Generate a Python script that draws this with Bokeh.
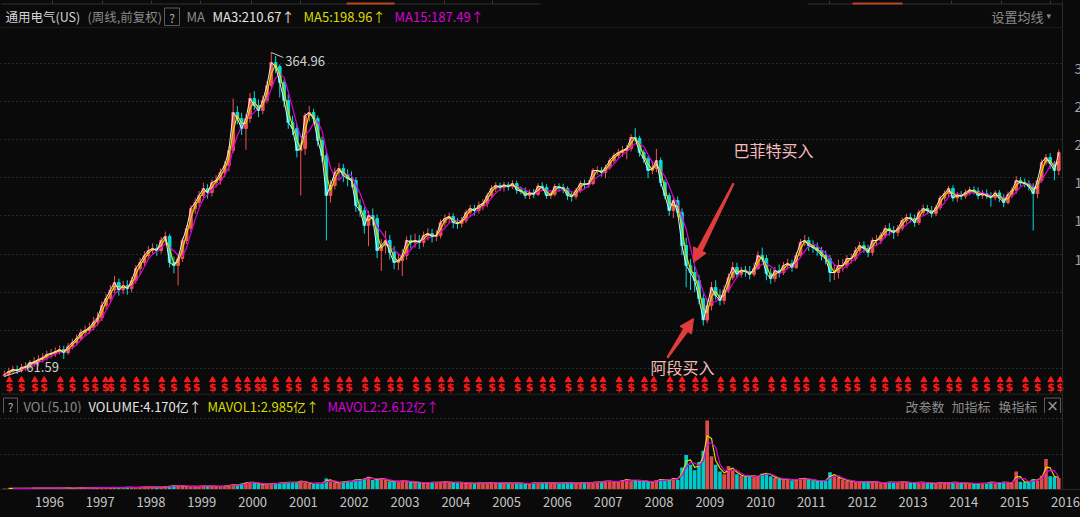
import math
import numpy as np
import pandas as pd
from bokeh.plotting import figure
from bokeh.layouts import column
from bokeh.models import (Range1d, Span, ColumnDataSource, FixedTicker,
                          DatetimeTickFormatter)
from bokeh.core.properties import value
from bokeh.embed import file_html
from bokeh.resources import INLINE

# ------------------------------------------------------------------ data
stock_name = "通用电气(US)"
period_note = "(周线,前复权)"
ma_texts = ["MA3:210.67↑", "MA5:198.96↑", "MA15:187.49↑"]
vol_title = "VOL(5,10)"
vol_texts = ["VOLUME:4.170亿↑", "MAVOL1:2.985亿↑", "MAVOL2:2.612亿↑"]
right_buttons = ["改参数", "加指标", "换指标"]
setting_text = "设置均线"
note_buffett = "巴菲特买入"
note_duan = "阿段买入"
years = list(range(1996, 2017))

first_month = "1995-05-01"   # monthly bars, May 1995 .. Feb 2016
first_open = 61.8

close = [
    62.2, 63.3, 64.0, 63.6, 64.7, 65.0, 66.1, 66.8,                              # 1995
    67.6, 68.3, 69.5, 69.9, 70.6, 71.4, 70.2, 72.6, 74.2, 75.9, 78.4, 79.3,      # 1996
    80.6, 83.1, 84.9, 90.9, 94.5, 99.0, 103.2, 99.0, 101.5, 99.8, 104.3, 111.4,  # 1997
    115.2, 119.7, 123.0, 124.4, 123.0, 130.0, 132.9, 115.2, 113.3, 117.7, 130.0, 138.8,
    154.9, 160.1, 166.4, 172.9, 169.1, 178.7, 180.7, 188.8, 196.2, 213.1, 262.5, 254.0,
    240.4, 254.0, 283.5, 272.8, 265.4, 280.4, 304.4, 345.5, 338.0, 309.6, 280.4, 248.5,
    240.4, 213.1, 215.4, 258.2, 262.5, 254.0, 225.1, 207.3, 166.4, 175.8, 188.8, 193.0,
    185.7, 182.7, 180.7, 157.5, 153.2, 141.1, 149.1, 146.7, 123.0, 126.4, 130.0, 121.7,
    115.2, 116.5, 119.7, 130.0, 128.6, 130.0, 128.6, 133.6, 135.0, 132.9, 133.6, 143.4,
    146.7, 148.3, 143.4, 142.6, 145.0, 151.5, 154.9, 153.2, 157.5, 159.3, 166.4, 172.9,
    175.8, 173.9, 176.4, 174.6, 177.7, 171.6, 170.3, 166.4, 168.9, 167.5, 175.2, 173.9,
    166.4, 167.3, 174.8, 173.9, 172.9, 166.4, 165.5, 171.0, 177.7, 176.8, 177.7, 190.9,
    190.9, 188.8, 194.1, 201.7, 207.3, 210.7, 213.1, 215.4, 228.9, 227.7, 210.7, 203.9,
    190.9, 193.0, 201.7, 178.7, 166.4, 153.2, 161.9, 151.5, 126.4, 113.3, 109.0, 104.3,
    94.5, 84.0, 90.9, 100.4, 96.1, 93.5, 99.0, 106.0, 112.1, 108.0, 110.5, 109.6,
    107.9, 111.5, 119.7, 117.7, 108.4, 105.4, 110.2, 109.0, 113.3, 114.6, 112.1, 119.7,
    128.6, 130.0, 126.4, 125.0, 123.0, 119.7, 117.7, 109.0, 109.0, 113.3, 113.3, 117.7,
    117.7, 123.0, 126.4, 124.4, 121.7, 130.0, 130.0, 133.6, 138.8, 137.3, 135.8, 138.8,
    145.0, 147.5, 146.7, 143.4, 151.5, 154.9, 153.2, 150.7, 155.8, 164.1, 168.2, 172.9,
    164.1, 166.9, 165.8, 169.1, 171.6, 170.4, 166.4, 168.2, 166.0, 164.5, 168.8, 164.1,
    160.1, 167.3, 171.0, 180.7, 178.7, 177.7, 174.8, 168.2, 180.7, 199.5, 205.0, 198.4,
    190.9, 210.7,                                                                 # 2016
]
high = [
    63.5, 64.6, 65.3, 65.4, 66.0, 66.6, 67.4, 68.5,
    69.2, 70.0, 71.0, 71.6, 72.3, 73.0, 72.9, 74.0, 75.8, 77.6, 80.0, 81.5,
    82.8, 85.5, 87.6, 93.0, 97.0, 101.8, 107.0, 105.5, 104.2, 104.5, 106.5, 113.5,
    118.0, 122.5, 126.0, 128.0, 127.5, 132.5, 136.5, 134.5, 119.0, 121.0, 132.0, 141.5,
    158.0, 164.0, 170.5, 178.5, 177.0, 182.0, 186.0, 193.0, 201.0, 218.0, 283.5, 272.0,
    262.0, 260.0, 292.0, 295.0, 282.0, 288.0, 312.0, 364.96, 358.0, 342.0, 315.0, 290.0,
    258.0, 246.0, 222.0, 262.0, 272.0, 268.0, 258.0, 230.0, 212.0, 181.0, 194.0, 199.0,
    198.0, 192.0, 190.0, 184.0, 163.0, 156.0, 153.0, 155.0, 150.0, 131.0, 137.0, 134.0,
    126.0, 121.0, 124.0, 133.0, 134.0, 135.0, 134.0, 136.5, 139.0, 138.5, 137.5, 146.0,
    150.0, 151.5, 151.0, 147.0, 148.0, 154.0, 158.0, 158.0, 161.0, 163.0, 169.0, 176.0,
    179.0, 178.5, 179.5, 179.0, 181.0, 180.5, 175.0, 174.0, 172.0, 172.5, 178.0, 179.0,
    177.0, 170.5, 177.5, 178.0, 177.5, 175.0, 170.0, 173.5, 180.5, 181.5, 181.0, 193.5,
    195.5, 194.5, 197.0, 205.0, 210.5, 215.0, 218.5, 219.5, 233.0, 241.0, 231.0, 214.0,
    207.0, 201.0, 215.0, 205.0, 181.5, 169.0, 166.0, 165.5, 155.0, 132.0, 117.5, 113.0,
    107.5, 97.0, 94.0, 103.5, 104.5, 99.5, 101.5, 108.5, 115.5, 115.0, 112.5, 113.0,
    113.0, 115.0, 122.5, 125.0, 120.0, 111.5, 112.5, 114.0, 115.5, 117.5, 117.0, 122.0,
    131.0, 134.0, 132.5, 130.0, 128.5, 125.5, 123.0, 120.0, 114.0, 117.0, 117.5, 120.0,
    121.0, 125.5, 129.0, 129.5, 127.0, 132.0, 134.0, 136.0, 141.5, 143.0, 140.5, 141.5,
    147.5, 150.5, 151.0, 150.0, 154.0, 158.5, 158.0, 157.0, 158.0, 166.5, 171.0, 175.5,
    176.0, 169.5, 170.5, 172.0, 174.5, 175.0, 174.0, 171.5, 172.0, 169.5, 171.0, 171.5,
    167.5, 170.0, 174.0, 185.0, 184.0, 182.5, 181.0, 178.0, 183.0, 203.0, 209.0, 210.0,
    201.0, 214.0,
]
low = [
    61.59, 61.9, 62.6, 62.4, 62.9, 63.5, 64.3, 65.0,
    65.3, 66.5, 67.2, 68.0, 68.6, 69.5, 67.8, 69.4, 71.5, 73.0, 75.0, 76.8,
    77.9, 79.5, 81.4, 83.5, 89.0, 92.6, 97.5, 96.0, 96.8, 96.5, 97.8, 102.5,
    107.5, 113.0, 117.0, 120.0, 119.5, 121.0, 127.0, 112.0, 108.5, 101.5, 115.5, 127.5,
    136.0, 150.5, 156.5, 162.0, 163.5, 165.5, 174.0, 176.5, 184.0, 190.0, 210.0, 246.0,
    232.0, 214.0, 248.0, 266.0, 256.0, 260.0, 276.0, 300.0, 326.0, 285.0, 270.0, 240.0,
    232.0, 205.0, 166.4, 208.0, 250.0, 246.0, 218.0, 200.0, 130.0, 160.0, 172.0, 182.0,
    179.0, 175.0, 174.0, 152.0, 148.0, 135.0, 126.0, 141.0, 118.0, 110.0, 121.0, 117.0,
    111.0, 110.5, 107.0, 117.0, 124.5, 125.0, 124.0, 125.5, 130.0, 128.5, 129.5, 131.5,
    140.5, 143.0, 139.0, 138.5, 139.5, 143.0, 148.0, 149.0, 150.5, 153.5, 156.0, 164.0,
    169.5, 170.5, 170.0, 171.0, 172.5, 168.0, 167.5, 163.5, 163.0, 164.0, 166.0, 170.5,
    163.5, 163.5, 165.5, 170.0, 168.5, 162.5, 161.0, 163.0, 169.0, 173.0, 173.5, 176.0,
    186.5, 184.5, 183.0, 191.5, 198.5, 204.0, 206.0, 203.0, 212.0, 223.0, 206.0, 199.0,
    183.0, 187.0, 189.0, 175.0, 163.0, 149.0, 147.0, 148.0, 120.0, 100.5, 99.0, 98.0,
    91.5, 81.5, 82.5, 88.5, 94.0, 91.0, 91.5, 97.5, 104.5, 106.0, 106.0, 106.5,
    105.0, 106.5, 110.5, 115.5, 104.5, 102.5, 103.5, 106.0, 107.5, 111.0, 109.5, 111.0,
    118.0, 126.0, 122.5, 121.5, 119.5, 116.5, 114.0, 103.5, 104.5, 105.5, 109.5, 111.5,
    114.5, 116.0, 121.0, 121.5, 118.5, 119.5, 126.5, 127.5, 131.5, 133.5, 131.0, 133.0,
    137.0, 142.5, 143.5, 140.0, 141.5, 148.5, 150.0, 147.5, 148.5, 153.5, 161.5, 165.5,
    161.0, 160.5, 162.5, 163.5, 166.5, 167.5, 163.0, 163.5, 163.5, 156.5, 162.0, 160.5,
    156.0, 158.5, 164.0, 168.0, 175.5, 174.0, 171.0, 137.3, 164.0, 178.5, 196.5, 192.5,
    181.0, 186.0,
]
# typical weekly volume of each month, 亿 shares
volume = [
    0.35, 0.4, 0.35, 0.4, 0.45, 0.4, 0.45, 0.5,
    0.5, 0.55, 0.5, 0.55, 0.5, 0.5, 0.6, 0.55, 0.5, 0.6, 0.55, 0.6,
    0.65, 0.6, 0.7, 0.75, 0.7, 0.65, 0.7, 0.75, 0.7, 0.85, 0.75, 0.7,
    0.9, 0.85, 0.9, 0.85, 0.85, 0.9, 1.0, 1.3, 1.4, 1.5, 1.15, 1.1,
    1.2, 1.1, 1.2, 1.3, 1.25, 1.2, 1.1, 1.2, 1.25, 1.6, 1.7, 1.5,
    2.2, 2.5, 2.7, 2.4, 2.0, 1.9, 2.0, 2.2, 2.0, 2.5, 2.4, 2.7,
    2.5, 2.7, 3.2, 2.5, 2.2, 2.0, 2.4, 2.2, 4.0, 3.0, 2.5, 2.5,
    2.9, 3.0, 2.9, 3.7, 3.4, 4.0, 4.6, 3.4, 3.7, 4.2, 3.4, 2.9,
    3.0, 2.9, 3.2, 2.9, 2.7, 2.7, 2.5, 2.4, 2.5, 2.7, 2.5, 2.7,
    2.9, 2.5, 2.5, 2.7, 2.4, 2.4, 2.2, 2.2, 2.4, 2.2, 2.4, 2.5,
    2.5, 2.4, 2.2, 2.4, 2.2, 2.4, 2.2, 2.0, 2.2, 2.4, 2.2, 2.4,
    2.5, 2.4, 2.4, 2.2, 2.4, 2.5, 2.4, 2.2, 2.4, 2.5, 2.4, 2.7,
    2.7, 2.7, 3.2, 2.9, 2.7, 2.9, 3.4, 3.7, 3.0, 3.4, 3.2, 3.0,
    2.9, 2.8, 3.3, 3.8, 3.1, 3.5, 4.2, 3.4, 8.0, 12.5, 9.0, 7.0,
    10.0, 14.0, 25.0, 12.0, 9.0, 6.5, 5.5, 8.5, 7.0, 5.5, 5.0, 4.5,
    5.2, 4.6, 4.8, 5.8, 6.0, 4.8, 4.2, 3.8, 3.6, 3.8, 3.3, 3.4,
    4.2, 3.8, 3.6, 3.3, 3.1, 3.3, 3.2, 6.2, 4.6, 4.2, 3.6, 3.1,
    3.0, 2.8, 2.8, 2.7, 2.8, 2.9, 2.6, 2.3, 2.6, 2.7, 2.5, 2.6,
    2.8, 2.6, 2.4, 2.6, 2.5, 2.6, 2.3, 2.2, 2.3, 2.5, 2.4, 2.4,
    2.7, 2.4, 2.3, 2.3, 2.2, 2.1, 2.2, 2.2, 2.3, 2.8, 2.3, 2.4,
    2.8, 2.4, 2.4, 6.5, 2.8, 2.6, 2.9, 3.8, 3.2, 5.0, 11.0, 4.8,
    4.6, 4.17,
]
# dividend (ex-date) and split events shown as "$" marks
dividend_dates = [f"{y}-{md}" for y in range(1995, 2016)
                  for md in ("02-25", "06-20", "09-15", "12-20")
                  if not (y == 1995 and md == "02-25")] + ["2016-02-25"]
split_dates = ["1997-05-12", "2000-05-08"]
# right price-axis ticks (log scale); only the first digit fits in the window
price_ticks = [343.57, 278.85, 226.33, 183.69, 149.10, 120.34, 97.68, 79.28, 64.35]
vol_ticks = [12.67, 25.70]

n = len(close)
assert len(high) == n and len(low) == n and len(volume) == n == 250

# ------------------------------------------------------------------ layout
W = 1080
H_HEAD, H_PRICE, H_VHEAD, H_VOL, H_AXIS = 28, 365, 20, 76, 28
BG = "#0a0a0a"
GRID = "#4a4a4a"
SEP = "#2c2c2c"
GRAY = "#8a8a8a"
WHITE = "#e4e4e4"
YELLOW = "#dada00"
MAGENTA = "#dc00dc"
UP = "#f25252"
DOWN = "#00dcdc"
FONT = "Noto Sans CJK SC"

DAY = 86400000.0
YEAR = 365.2425 * DAY
T1996 = pd.Timestamp("1996-01-01").value / 1e6
X_1996, PX_YEAR = 36.0, 50.8          # pixel calibration of the time axis
K_LOG, PEAK_PX = 0.005492, 52.0       # pixel calibration of the log price axis
PEAK = max(high)
VOL_PER_PX = 0.362


def x_ms(px):
    return T1996 + (px - X_1996) / PX_YEAR * YEAR


def price_at(py):
    return PEAK * math.exp(-(py - PEAK_PX) * K_LOG)


def to_ms(s):
    return pd.Timestamp(s).value / 1e6


t = pd.date_range(first_month, periods=n, freq="MS") + pd.Timedelta(days=14)
t_ms = np.array([ts.value / 1e6 for ts in t])
open_ = [first_open] + close[:-1]
up = [c >= o for o, c in zip(open_, close)]
colors = [UP if u else DOWN for u in up]

X_START, X_END, X_SEP = x_ms(0), x_ms(1080), x_ms(1062)


def make_fig(height, xr, yr, **kw):
    opts = dict(width=W, height=height, x_range=xr, y_range=yr,
                toolbar_location=None, output_backend="svg",
                x_axis_location=None, y_axis_location=None,
                min_border_left=0, min_border_right=0,
                min_border_top=0, min_border_bottom=0,
                background_fill_color=BG, border_fill_color=BG,
                outline_line_color=None)
    opts.update(kw)
    p = figure(**opts)
    p.grid.visible = False
    return p


def texts(p, items, y, size="13px", font=FONT, align="left"):
    src = ColumnDataSource(dict(x=[i[0] for i in items], y=[y] * len(items),
                                text=[i[1] for i in items], color=[i[2] for i in items]))
    p.text(x="x", y="y", text="text", text_color="color", source=src,
           text_font=value(font), text_font_size=size,
           text_baseline="middle", text_align=align)


# ---------------- header row
head = make_fig(H_HEAD, Range1d(0, 1080), Range1d(28, 0))
head.segment(x0=[0, 807], x1=[540, 1062], y0=[3.5, 3.5], y1=[3.5, 3.5], line_color="#303030")
tab_x = [52, 102, 151, 200, 251, 300, 444, 492, 829, 951, 1001, 1050]
head.segment(x0=tab_x, x1=tab_x, y0=[0] * len(tab_x), y1=[3.5] * len(tab_x), line_color="#3a3a3a")
head.segment(x0=[346, 852], x1=[394, 902], y0=[3, 3], y1=[3, 3], line_color="#b8461c", line_width=2)
head.segment(x0=[0], x1=[1062], y0=[27.5], y1=[27.5], line_color=SEP)
head.segment(x0=[1062], x1=[1062], y0=[0], y1=[28], line_color=SEP)
head.quad(left=[164], right=[179], top=[7.5], bottom=[25], fill_color=None, line_color="#5c5c5c")
texts(head, [(171.5, "?", "#b0b0b0")], 16.5, size="12px", align="center")
texts(head, [(5, stock_name, "#d4d4d4"), (87, period_note, GRAY)], 16, size="12.5px")
texts(head, [(186, "MA", GRAY),
             (212, ma_texts[0], WHITE), (303, ma_texts[1], YELLOW), (394, ma_texts[2], MAGENTA),
             (991, setting_text, GRAY)], 16)
texts(head, [(1046, "▾", GRAY)], 15, size="9px", font="DejaVu Sans")

# ---------------- price panel (log scale)
price = make_fig(H_PRICE, Range1d(X_START, X_END), Range1d(price_at(393), price_at(28)),
                 y_axis_type="log", x_axis_type="datetime")
price.segment(x0=[X_START] * len(price_ticks), x1=[X_SEP] * len(price_ticks),
              y0=price_ticks, y1=price_ticks, line_color=GRID, line_dash="1 3")
price.add_layout(Span(location=X_SEP, dimension="height", line_color=SEP, line_width=1))

src = ColumnDataSource(dict(t=t_ms, o=open_, c=close, h=high, l=low,
                            top=[max(o, c) for o, c in zip(open_, close)],
                            bot=[min(o, c) for o, c in zip(open_, close)],
                            color=colors))
price.segment(x0="t", x1="t", y0="l", y1="h", line_color="color", source=src)
price.vbar(x="t", width=19 * DAY, top="top", bottom="bot", fill_color="color",
           line_color="color", source=src)

cs = pd.Series(close)
price.line(t_ms, cs.rolling(4).mean(), line_color=MAGENTA, line_width=1.2)
price.line(t_ms, cs.rolling(2).mean(), line_color=YELLOW, line_width=1.2)
price.line(t_ms, cs, line_color="#f0f0f0", line_width=1)

# extreme-value labels
i_hi, i_lo = int(np.argmax(high)), int(np.argmin(low))
price.segment(x0=[t_ms[i_hi]], x1=[t_ms[i_hi] + 12 / PX_YEAR * YEAR],
              y0=[high[i_hi]], y1=[high[i_hi] * math.exp(-5 * K_LOG)], line_color="#d0d0d0")
price.text(x=[t_ms[i_hi]], y=[high[i_hi]], text=[f"{high[i_hi]:.2f}"], x_offset=14, y_offset=8,
           text_color="#d0d0d0", text_font=value(FONT), text_font_size="13px",
           text_baseline="middle")
price.segment(x0=[t_ms[i_lo]], x1=[t_ms[i_lo] + 18 / PX_YEAR * YEAR],
              y0=[low[i_lo]], y1=[low[i_lo] * math.exp(6 * K_LOG)], line_color="#d0d0d0")
price.text(x=[t_ms[i_lo]], y=[low[i_lo]], text=[f"{low[i_lo]:.2f}"], x_offset=22, y_offset=-9,
           text_color="#d0d0d0", text_font=value(FONT), text_font_size="13px",
           text_baseline="middle")

# dividend / split marks
ev = [to_ms(d) for d in dividend_dates + split_dates]
price.scatter(x=ev, y=[price_at(379.5)] * len(ev), marker="triangle", size=6,
              fill_color="#ff1a1a", line_color="#ff1a1a")
price.text(x=ev, y=[price_at(387)] * len(ev), text=["$"] * len(ev), text_color="#ff1a1a",
           text_font=value("DejaVu Sans"), text_font_size="11px", text_font_style="bold",
           text_align="center", text_baseline="middle")

# annotation arrows and notes


def arrow_patch(tail, tip, head_len=14.0, head_hw=7.0, tail_hw=0.7, neck_hw=2.6):
    tx, ty = tail
    px, py = tip
    dx, dy = px - tx, py - ty
    L = math.hypot(dx, dy)
    ux, uy = dx / L, dy / L
    nx, ny = -uy, ux
    bx, by = px - ux * head_len, py - uy * head_len
    pts = [(tx + nx * tail_hw, ty + ny * tail_hw), (bx + nx * neck_hw, by + ny * neck_hw),
           (bx + nx * head_hw, by + ny * head_hw), (px, py),
           (bx - nx * head_hw, by - ny * head_hw), (bx - nx * neck_hw, by - ny * neck_hw),
           (tx - nx * tail_hw, ty - ny * tail_hw)]
    return [x_ms(a) for a, _ in pts], [price_at(b) for _, b in pts]


ax1, ay1 = arrow_patch((733, 183), (693, 262))
ax2, ay2 = arrow_patch((667, 357), (693, 318))
price.patches(xs=[ax1, ax2], ys=[ay1, ay2], fill_color="#e23c3c", line_color="#e23c3c")
price.text(x=[x_ms(733), x_ms(650)], y=[price_at(149), price_at(366)],
           text=[note_buffett, note_duan], text_color="#f3bcbc", text_font=value(FONT),
           text_font_size="16px", text_baseline="middle")

# right axis labels: only those whose first digit reaches into the window
lab = [f"{v:.2f}" for v in price_ticks]
vis = [i for i, s in enumerate(lab) if len(s) == 6]
price.text(x=[x_ms(1074)] * len(vis), y=[price_ticks[i] for i in vis],
           text=[lab[i] for i in vis], y_offset=5, text_color="#9aa2aa",
           text_font=value(FONT), text_font_size="14px", text_baseline="middle")

# ---------------- volume header
vhead = make_fig(H_VHEAD, Range1d(0, 1080), Range1d(413, 393))
vhead.segment(x0=[0], x1=[1062], y0=[393.5], y1=[393.5], line_color=SEP)
vhead.segment(x0=[1062], x1=[1062], y0=[393], y1=[413], line_color=SEP)
vhead.quad(left=[3, 1044], right=[17, 1060], top=[397.5, 397.5], bottom=[413, 413],
           fill_color=None, line_color="#5c5c5c")
texts(vhead, [(10, "?", "#b0b0b0")], 405.5, size="12px", align="center")
texts(vhead, [(1052, "×", "#9a9a9a")], 405, size="15px", font="DejaVu Sans", align="center")
texts(vhead, [(23, vol_title, GRAY), (88, vol_texts[0], WHITE), (207, vol_texts[1], YELLOW),
              (327, vol_texts[2], MAGENTA), (905, right_buttons[0], GRAY),
              (951, right_buttons[1], GRAY), (998, right_buttons[2], GRAY)], 405.5)

# ---------------- volume panel + time axis
vol = make_fig(H_VOL + H_AXIS, price.x_range, Range1d(0, 76 * VOL_PER_PX),
               x_axis_type="datetime", x_axis_location="below",
               min_border_bottom=H_AXIS)
vol.segment(x0=[X_START] * 2, x1=[X_SEP] * 2, y0=vol_ticks, y1=vol_ticks,
            line_color=GRID, line_dash="1 3")
vol.add_layout(Span(location=X_SEP, dimension="height", line_color=SEP, line_width=1))
vsrc = ColumnDataSource(dict(t=t_ms, v=volume, color=colors))
vol.vbar(x="t", width=26 * DAY, top="v", bottom=0, fill_color="color", line_color=None,
         fill_alpha=0.92, source=vsrc)
vs = pd.Series(volume)
vol.line(t_ms, vs.rolling(2).mean(), line_color=YELLOW, line_width=1.2)
vol.line(t_ms, vs.rolling(3).mean(), line_color=MAGENTA, line_width=1.2)

xa = vol.xaxis[0]
xa.ticker = FixedTicker(ticks=[to_ms(f"{y}-04-03") for y in years])
xa.formatter = DatetimeTickFormatter(days="%Y", months="%Y", years="%Y")
xa.major_tick_out = 0
xa.major_tick_in = 0
xa.minor_tick_line_color = None
xa.axis_line_color = "#262626"
xa.major_label_standoff = 7
xa.major_label_text_color = "#c4c4c4"
xa.major_label_text_font = FONT
xa.major_label_text_font_size = "13px"

layout = column(head, price, vhead, vol, spacing=0)
html = file_html(layout, INLINE, title="通用电气(US) 周线")
html = html.replace("</head>", "<style>html,body{background:#0a0a0a;}</style></head>", 1)
open("out.html", "w").write(html)
